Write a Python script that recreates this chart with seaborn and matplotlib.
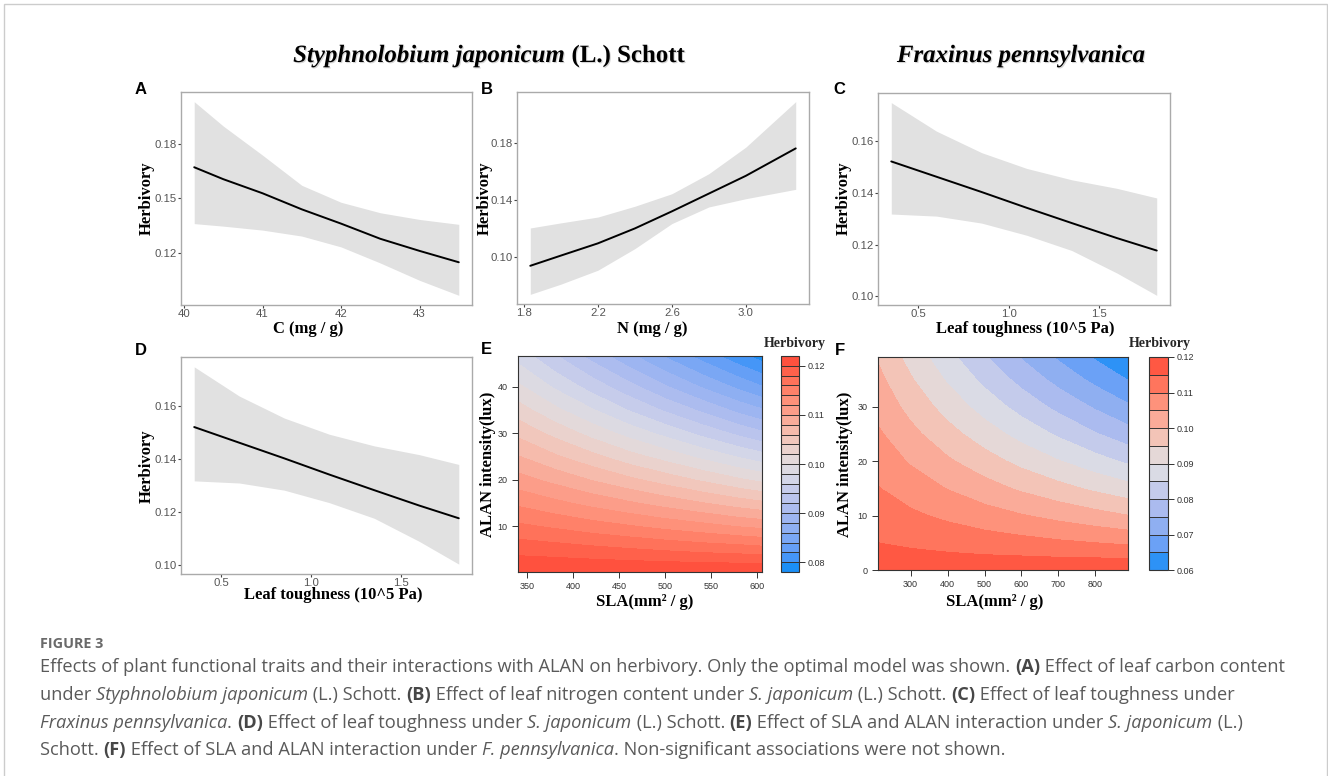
import numpy as np
import matplotlib
matplotlib.use("Agg")
import matplotlib.pyplot as plt
import matplotlib.patheffects as pe
from matplotlib.colors import LinearSegmentedColormap
from matplotlib.patches import Rectangle
import seaborn as sns

# ---------------- data ----------------
# Panel A: herbivory vs leaf C
A_c = [40.13, 40.5, 41.0, 41.5, 42.0, 42.5, 43.0, 43.5]
A_fit = [0.1672, 0.1606, 0.1528, 0.1439, 0.1360, 0.1276, 0.1209, 0.1146]
A_upper = [0.2035, 0.1900, 0.1739, 0.1572, 0.1478, 0.1420, 0.1383, 0.1356]
A_lower = [0.1360, 0.1346, 0.1324, 0.1291, 0.1231, 0.1142, 0.1046, 0.0963]

# Panel B: herbivory vs leaf N
B_n = [1.834, 2.0, 2.2, 2.4, 2.6, 2.8, 3.0, 3.27]
B_fit = [0.0937, 0.1009, 0.1095, 0.1200, 0.1320, 0.1445, 0.1570, 0.1763]
B_upper = [0.1203, 0.1239, 0.1280, 0.1356, 0.1444, 0.1585, 0.1772, 0.2092]
B_lower = [0.0736, 0.0808, 0.0906, 0.1058, 0.1234, 0.1351, 0.1409, 0.1475]

# Panels C and D: herbivory vs leaf toughness
T_tough = [0.35, 0.6, 0.85, 1.1, 1.35, 1.6, 1.82]
T_fit = [0.1521, 0.1462, 0.1403, 0.1342, 0.1283, 0.1225, 0.1177]
T_upper = [0.1748, 0.1638, 0.1555, 0.1494, 0.1450, 0.1417, 0.1380]
T_lower = [0.1318, 0.1310, 0.1283, 0.1236, 0.1177, 0.1090, 0.1004]

# Panel E: herbivory surface over SLA x ALAN (one row per SLA value)
E_sla = [340, 380, 420, 460, 500, 540, 580, 605]
E_alan = [0.2, 5, 10, 15, 20, 25, 30, 35, 40, 46.6]
E_herbivory = [
    [0.1219, 0.1193, 0.1164, 0.1136, 0.1108, 0.1081, 0.1055, 0.1029, 0.1004, 0.0972],
    [0.1219, 0.1190, 0.1157, 0.1125, 0.1094, 0.1063, 0.1034, 0.1005, 0.0977, 0.0942],
    [0.1219, 0.1186, 0.1149, 0.1114, 0.1079, 0.1046, 0.1013, 0.0982, 0.0952, 0.0913],
    [0.1219, 0.1182, 0.1142, 0.1103, 0.1065, 0.1028, 0.0993, 0.0959, 0.0927, 0.0885],
    [0.1219, 0.1178, 0.1134, 0.1092, 0.1051, 0.1012, 0.0974, 0.0937, 0.0902, 0.0858],
    [0.1219, 0.1174, 0.1127, 0.1081, 0.1037, 0.0995, 0.0954, 0.0916, 0.0878, 0.0832],
    [0.1219, 0.1171, 0.1119, 0.1070, 0.1023, 0.0978, 0.0935, 0.0894, 0.0855, 0.0806],
    [0.1219, 0.1168, 0.1115, 0.1064, 0.1015, 0.0968, 0.0924, 0.0882, 0.0841, 0.0791],
]
E_cbar_ticks = [0.08, 0.09, 0.10, 0.11, 0.12]

# Panel F: herbivory surface over SLA x ALAN (one row per SLA value)
F_sla = [212, 300, 400, 500, 600, 700, 800, 888]
F_alan = [0, 5, 10, 15, 20, 25, 30, 35, 39.1]
F_herbivory = [
    [0.1175, 0.1150, 0.1126, 0.1102, 0.1079, 0.1057, 0.1034, 0.1013, 0.0995],
    [0.1177, 0.1143, 0.1109, 0.1076, 0.1045, 0.1014, 0.0984, 0.0955, 0.0932],
    [0.1180, 0.1134, 0.1090, 0.1048, 0.1007, 0.0968, 0.0930, 0.0894, 0.0866],
    [0.1182, 0.1125, 0.1071, 0.1020, 0.0971, 0.0924, 0.0879, 0.0837, 0.0804],
    [0.1185, 0.1117, 0.1053, 0.0992, 0.0935, 0.0882, 0.0831, 0.0784, 0.0746],
    [0.1187, 0.1108, 0.1035, 0.0966, 0.0902, 0.0842, 0.0786, 0.0733, 0.0693],
    [0.1190, 0.1100, 0.1017, 0.0940, 0.0869, 0.0803, 0.0743, 0.0686, 0.0644],
    [0.1192, 0.1092, 0.1001, 0.0918, 0.0841, 0.0771, 0.0707, 0.0648, 0.0603],
]
F_cbar_ticks = [0.06, 0.07, 0.08, 0.09, 0.10, 0.11, 0.12]

# ---------------- styling ----------------
sns.set_theme(style="white")
plt.rcParams["font.family"] = ["Liberation Sans", "DejaVu Sans"]
SERIF = ["Liberation Serif", "DejaVu Serif"]
CAPF = ["Open Sans", "DejaVu Sans"]

W, H = 1328, 776
fig = plt.figure(figsize=(W / 100, H / 100), dpi=100)
fig.patch.set_facecolor("white")
renderer = fig.canvas.get_renderer()


def px_axes(l, t, r, b):
    return fig.add_axes([l / W, 1 - b / H, (r - l) / W, (b - t) / H])


def ftext(x, y, s, **kw):
    return fig.text(x / W, 1 - y / H, s, **kw)


herb_cmap = LinearSegmentedColormap.from_list(
    "herb",
    ["#0A8CF5", "#5A9AF8", "#86ACF2", "#A6B8F0", "#C0C8EC", "#D9DBE6",
     "#E6D8D6", "#F4C2B4", "#FBA592", "#FF8A72", "#FF6A52", "#FF4A38"],
)


def gg_panel(rect, x, fit, lo, hi, xticks, xlabels, yticks, ylabels):
    ax = px_axes(*rect)
    ax.fill_between(x, lo, hi, color="#E1E1E1", lw=0)
    sns.lineplot(x=x, y=fit, ax=ax, color="black", lw=1.4)
    ax.margins(x=0.05, y=0.05)
    ax.set_xticks(xticks)
    ax.set_xticklabels(xlabels)
    ax.set_yticks(yticks)
    ax.set_yticklabels(ylabels)
    ax.set_xlabel("")
    ax.set_ylabel("")
    for s in ax.spines.values():
        s.set_color("#AAAAAA")
        s.set_linewidth(1.0)
    ax.tick_params(axis="both", which="both", bottom=True, left=True,
                   direction="out", length=2, width=0.8, color="#444444",
                   labelsize=8.2, labelcolor="#555555", pad=0.8)
    return ax


def contour_panel(rect, cbrect, sla, alan, z, levels, xticks, yticks, cticks):
    ax = px_axes(*rect)
    Z = np.array(z).T
    cf = ax.contourf(sla, alan, Z, levels=levels, cmap=herb_cmap)
    ax.set_xlim(sla[0], sla[-1])
    ax.set_ylim(alan[0], alan[-1])
    ax.set_xticks(xticks)
    ax.set_yticks(yticks)
    ax.set_xticklabels([str(v) for v in xticks])
    ax.set_yticklabels([str(v) for v in yticks])
    for s in ax.spines.values():
        s.set_color("#333333")
        s.set_linewidth(0.8)
    ax.tick_params(axis="x", bottom=True, direction="out", length=4,
                   width=0.7, color="#333333", labelsize=6.5,
                   labelcolor="#333333", pad=3.5)
    ax.tick_params(axis="y", left=True, direction="out", length=4,
                   width=0.7, color="#333333", labelsize=6.5,
                   labelcolor="#333333", pad=3.5)
    cax = px_axes(*cbrect)
    cb = fig.colorbar(cf, cax=cax, drawedges=True)
    cb.dividers.set_color("#333333")
    cb.dividers.set_linewidth(0.7)
    cb.outline.set_edgecolor("#333333")
    cb.outline.set_linewidth(0.8)
    cb.set_ticks(cticks)
    cb.set_ticklabels([f"{v:.2f}" for v in cticks])
    cax.yaxis.set_ticks_position("right")
    cax.tick_params(axis="y", right=True, direction="out", length=4,
                    width=0.7, color="#333333", labelsize=6.5,
                    labelcolor="#333333", pad=2)
    return ax


# ---------------- panels ----------------
gg_panel((181, 92, 472, 305), A_c, A_fit, A_lower, A_upper,
         [40, 41, 42, 43], ["40", "41", "42", "43"],
         [0.12, 0.15, 0.18], ["0.12", "0.15", "0.18"])
gg_panel((517, 92, 809, 304), B_n, B_fit, B_lower, B_upper,
         [1.8, 2.2, 2.6, 3.0], ["1.8", "2.2", "2.6", "3.0"],
         [0.10, 0.14, 0.18], ["0.10", "0.14", "0.18"])
gg_panel((878, 93, 1170, 305), T_tough, T_fit, T_lower, T_upper,
         [0.5, 1.0, 1.5], ["0.5", "1.0", "1.5"],
         [0.10, 0.12, 0.14, 0.16], ["0.10", "0.12", "0.14", "0.16"])
gg_panel((181, 357, 472, 574), T_tough, T_fit, T_lower, T_upper,
         [0.5, 1.0, 1.5], ["0.5", "1.0", "1.5"],
         [0.10, 0.12, 0.14, 0.16], ["0.10", "0.12", "0.14", "0.16"])

E_levels = np.round(np.arange(0.078, 0.1221, 0.002), 3)
contour_panel((518, 356, 762, 572), (781, 356, 799, 572), E_sla, E_alan,
              E_herbivory, E_levels, [350, 400, 450, 500, 550, 600],
              [10, 20, 30, 40], E_cbar_ticks)
F_levels = np.round(np.arange(0.06, 0.1201, 0.005), 3)
contour_panel((878, 357, 1128, 570), (1149, 357, 1168, 570), F_sla, F_alan,
              F_herbivory, F_levels, [300, 400, 500, 600, 700, 800],
              [0, 10, 20, 30], F_cbar_ticks)

# ---------------- axis titles ----------------
lab = dict(family=SERIF, weight="bold", fontsize=12, color="black",
           ha="center", va="center")
for (x, y) in [(147, 198), (485, 198), (844, 198), (147, 466)]:
    ftext(x, y, "Herbivory", rotation=90, **lab)
ftext(488, 464, "ALAN intensity(lux)", rotation=90, **lab)
ftext(845, 464, "ALAN intensity(lux)", rotation=90, **lab)
ftext(308, 329, "C (mg / g)", **lab)
ftext(652, 329, "N (mg / g)", **lab)
ftext(1025, 329, "Leaf toughness (10^5 Pa)", **lab)
ftext(333, 595, "Leaf toughness (10^5 Pa)", **lab)
ftext(645, 602, "SLA(mm² / g)", **lab)
ftext(995, 602, "SLA(mm² / g)", **lab)
ftext(795, 343, "Herbivory", family=SERIF, weight="bold", fontsize=10,
      ha="center", va="center")
ftext(1160, 343, "Herbivory", family=SERIF, weight="bold", fontsize=10,
      ha="center", va="center")

# panel letters
for (x, y, s) in [(141, 89, "A"), (487, 89, "B"), (839, 89, "C"),
                  (141, 351, "D"), (486, 350, "E"), (840, 351, "F")]:
    ftext(x, y, s, fontsize=12, weight="bold", ha="center", va="center",
          color="black", family=["Liberation Sans", "DejaVu Sans"])

# ---------------- rich text helper ----------------
STY = {"n": dict(style="normal", weight="normal"),
       "i": dict(style="italic", weight="normal"),
       "b": dict(style="normal", weight="bold"),
       "bi": dict(style="italic", weight="bold")}


def measure(txt, **kw):
    t = fig.text(0, 0, txt + "|", **kw)
    w1 = t.get_window_extent(renderer).width
    t.set_text("|")
    w2 = t.get_window_extent(renderer).width
    t.remove()
    return w1 - w2


def seg_widths(segs, size, family):
    return [measure(s, fontsize=size, family=family, **STY[k]) for s, k in segs]


def rich(x, y, segs, size, family, colors, ha="left", effects=None):
    widths = seg_widths(segs, size, family)
    if ha == "center":
        x = x - sum(widths) / 2
    for (s, k), w in zip(segs, widths):
        t = ftext(x, y, s, fontsize=size, family=family,
                  color=colors.get(k, colors["n"]), va="baseline", ha="left",
                  **STY[k])
        if effects:
            t.set_path_effects(effects)
        x += w


# ---------------- species titles ----------------
title_left = [("Styphnolobium japonicum", "bi"), (" (L.) Schott", "b")]
title_right = [("Fraxinus pennsylvanica", "bi")]
tsize = 17 * 392 / sum(seg_widths(title_left, 17, SERIF))
shadow = [pe.withSimplePatchShadow(offset=(0.8, -0.8), shadow_rgbFace="#888888",
                                   alpha=0.35)]
rich(489, 62, title_left, tsize, SERIF, {"n": "black"}, ha="center",
     effects=shadow)
rich(1021, 62, title_right, tsize, SERIF, {"n": "black"}, ha="center",
     effects=shadow)

# ---------------- caption ----------------
cap_lines = [
    [("Effects of plant functional traits and their interactions with ALAN on herbivory. Only the optimal model was shown. ", "n"),
     ("(A)", "b"), (" Effect of leaf carbon content", "n")],
    [("under ", "n"), ("Styphnolobium japonicum", "i"), (" (L.) Schott. ", "n"),
     ("(B)", "b"), (" Effect of leaf nitrogen content under ", "n"),
     ("S. japonicum", "i"), (" (L.) Schott. ", "n"), ("(C)", "b"),
     (" Effect of leaf toughness under", "n")],
    [("Fraxinus pennsylvanica", "i"), (". ", "n"), ("(D)", "b"),
     (" Effect of leaf toughness under ", "n"), ("S. japonicum", "i"),
     (" (L.) Schott. ", "n"), ("(E)", "b"),
     (" Effect of SLA and ALAN interaction under ", "n"),
     ("S. japonicum", "i"), (" (L.)", "n")],
    [("Schott. ", "n"), ("(F)", "b"),
     (" Effect of SLA and ALAN interaction under ", "n"),
     ("F. pennsylvanica", "i"),
     (". Non-significant associations were not shown.", "n")],
]
csize = 12 * 1244 / sum(seg_widths(cap_lines[0], 12, CAPF))
cap_colors = {"n": "#5A5A5A", "i": "#5A5A5A", "b": "#474747"}
for i, line in enumerate(cap_lines):
    rich(40, 672 + 27.8 * i, line, csize, CAPF, cap_colors)

fsize = 10 * 63 / measure("FIGURE 3", fontsize=10, family=CAPF, weight="bold")
ftext(40, 648, "FIGURE 3", fontsize=fsize, family=CAPF, weight="bold",
      color="#6A6A6A", va="baseline", ha="left")

# outer frame
fig.patches.append(Rectangle((4 / W, -0.02), 1322.5 / W, 1 - 4 / H + 0.02,
                             transform=fig.transFigure, fill=False,
                             edgecolor="#CCCCCC", linewidth=1.0))

fig.savefig("out.png", dpi=100, facecolor="white")
